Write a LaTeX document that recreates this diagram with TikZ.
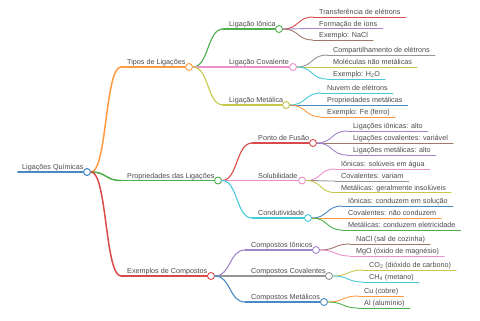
\documentclass[tikz,border=0pt]{standalone}
\usepackage{fontspec}
\setmainfont{Liberation Sans}
\definecolor{cblue}{HTML}{4A8AC4}
\definecolor{corange}{HTML}{FF9A40}
\definecolor{cgreen}{HTML}{4CAF4C}
\definecolor{cred}{HTML}{D94A4B}
\definecolor{cpurple}{HTML}{A385CB}
\definecolor{cbrown}{HTML}{9F766D}
\definecolor{cpink}{HTML}{E992CE}
\definecolor{cgray}{HTML}{959595}
\definecolor{colive}{HTML}{C7C84A}
\definecolor{ccyan}{HTML}{45CAD8}
\definecolor{ctext}{HTML}{4A4A4A}
\tikzset{
  txt/.style={anchor=base west, inner xsep=5bp, inner ysep=0pt, text=ctext,
    font=\fontsize{7.2bp}{8.5bp}\selectfont},
  dot/.style={circle, fill=white, minimum size=7bp, inner sep=0pt, line width=0.9bp},
  w1/.style={line width=1.5bp},
  w2/.style={line width=1.1bp},
  w3/.style={line width=0.9bp},
}
% inner node: name, color, width style, line start x, circle x, y, text
\newcommand{\MMinner}[7]{%
  \coordinate (#1-l) at (#4,#6);
  \node[txt] (#1-t) at (#4+1,#6-2.5) {#7};
  \node[dot, draw=#2] (#1) at (#5,#6) {};
  \draw[#2, #3] (#1-l) -- (#1);
}
% leaf: name, color, line start x, y, text
\newcommand{\MMleaf}[5]{%
  \coordinate (#1-l) at (#3,#4);
  \node[txt] (#1-t) at (#3+1,#4-2.5) {#5};
  \draw[#2, w3] (#1-l) -- (#1-l -| #1-t.east);
}
% link: parent, child, color, width style
\newcommand{\MMlink}[4]{%
  \draw[#3, #4] (#1.east) .. controls +(16,0) and +(-16,0) .. (#2-l);
}
\begin{document}
\begin{tikzpicture}[x=1bp, y=-1bp, line cap=round]
\useasboundingbox (0,0) rectangle (480,320);
% root
\coordinate (root-l) at (18,172);
\node[txt] (root-t) at (17,169.5) {Ligações Químicas};
\node[dot, draw=cblue, line width=1.1bp] (root) at (87,172) {};
\draw[cblue, line width=2bp] (root-l) -- (root);
% level 1
\MMinner{tipos}{corange}{w1}{121}{189}{67}{Tipos de Ligações}
\MMinner{props}{cgreen}{w1}{121}{218}{180.5}{Propriedades das Ligações}
\MMinner{exem}{cred}{w1}{121}{211}{276}{Exemplos de Compostos}
\MMlink{root}{tipos}{corange}{w1}
\MMlink{root}{props}{cgreen}{w1}
\MMlink{root}{exem}{cred}{w1}
% level 2
\MMinner{ion}{cgreen}{w2}{223}{279}{29}{Ligação Iônica}
\MMinner{cov}{cpink}{w2}{223}{293}{67}{Ligação Covalente}
\MMinner{met}{colive}{w2}{223}{286}{105}{Ligação Metálica}
\MMinner{fus}{cred}{w2}{252}{313}{143}{Ponto de Fusão}
\MMinner{sol}{cpink}{w2}{252}{302}{180.5}{Solubilidade}
\MMinner{con}{ccyan}{w2}{252}{308}{218}{Condutividade}
\MMinner{ci}{cpurple}{w2}{245}{316}{250}{Compostos Iônicos}
\MMinner{cc}{cgray}{w2}{245}{329}{276}{Compostos Covalentes}
\MMinner{cm}{cblue}{w2}{245}{324}{302}{Compostos Metálicos}
\MMlink{tipos}{ion}{cgreen}{w2}
\MMlink{tipos}{cov}{cpink}{w2}
\MMlink{tipos}{met}{colive}{w2}
\MMlink{props}{fus}{cred}{w2}
\MMlink{props}{sol}{cpink}{w2}
\MMlink{props}{con}{ccyan}{w2}
\MMlink{exem}{ci}{cpurple}{w2}
\MMlink{exem}{cc}{cgray}{w2}
\MMlink{exem}{cm}{cblue}{w2}
% leaves
\MMleaf{ion1}{cred}{313}{17}{Transferência de elétrons}
\MMleaf{ion2}{cpurple}{313}{28.5}{Formação de íons}
\MMleaf{ion3}{cbrown}{313}{40}{Exemplo: NaCl}
\MMleaf{cov1}{cgray}{327}{55}{Compartilhamento de elétrons}
\MMleaf{cov2}{colive}{327}{67}{Moléculas não metálicas}
\MMleaf{cov3}{ccyan}{327}{79}{Exemplo: H\textsubscript{2}O}
\MMleaf{met1}{ccyan}{321}{93}{Nuvem de elétrons}
\MMleaf{met2}{cblue}{321}{105}{Propriedades metálicas}
\MMleaf{met3}{corange}{321}{117}{Exemplo: Fe (ferro)}
\MMleaf{fus1}{cpurple}{347}{131}{Ligações iônicas: alto}
\MMleaf{fus2}{cbrown}{347}{143}{Ligações covalentes: variável}
\MMleaf{fus3}{cpurple}{347}{155}{Ligações metálicas: alto}
\MMleaf{sol1}{cpink}{335}{169}{Iônicas: solúveis em água}
\MMleaf{sol2}{cgray}{335}{181}{Covalentes: variam}
\MMleaf{sol3}{colive}{335}{192.5}{Metálicas: geralmente insolúveis}
\MMleaf{con1}{cblue}{342}{206}{Iônicas: conduzem em solução}
\MMleaf{con2}{corange}{342}{218}{Covalentes: não conduzem}
\MMleaf{con3}{cgreen}{342}{230}{Metálicas: conduzem eletricidade}
\MMleaf{ci1}{cbrown}{350}{244}{NaCl (sal de cozinha)}
\MMleaf{ci2}{cpink}{350}{256}{MgO (óxido de magnésio)}
\MMleaf{cc1}{colive}{363}{270}{CO\textsubscript{2} (dióxido de carbono)}
\MMleaf{cc2}{ccyan}{363}{282}{CH\textsubscript{4} (metano)}
\MMleaf{cm1}{corange}{358}{296}{Cu (cobre)}
\MMleaf{cm2}{cgreen}{358}{308}{Al (alumínio)}
\MMlink{ion}{ion1}{cred}{w3}
\MMlink{ion}{ion2}{cpurple}{w3}
\MMlink{ion}{ion3}{cbrown}{w3}
\MMlink{cov}{cov1}{cgray}{w3}
\MMlink{cov}{cov2}{colive}{w3}
\MMlink{cov}{cov3}{ccyan}{w3}
\MMlink{met}{met1}{ccyan}{w3}
\MMlink{met}{met2}{cblue}{w3}
\MMlink{met}{met3}{corange}{w3}
\MMlink{fus}{fus1}{cpurple}{w3}
\MMlink{fus}{fus2}{cbrown}{w3}
\MMlink{fus}{fus3}{cpurple}{w3}
\MMlink{sol}{sol1}{cpink}{w3}
\MMlink{sol}{sol2}{cgray}{w3}
\MMlink{sol}{sol3}{colive}{w3}
\MMlink{con}{con1}{cblue}{w3}
\MMlink{con}{con2}{corange}{w3}
\MMlink{con}{con3}{cgreen}{w3}
\MMlink{ci}{ci1}{cbrown}{w3}
\MMlink{ci}{ci2}{cpink}{w3}
\MMlink{cc}{cc1}{colive}{w3}
\MMlink{cc}{cc2}{ccyan}{w3}
\MMlink{cm}{cm1}{corange}{w3}
\MMlink{cm}{cm2}{cgreen}{w3}
\end{tikzpicture}
\end{document}
